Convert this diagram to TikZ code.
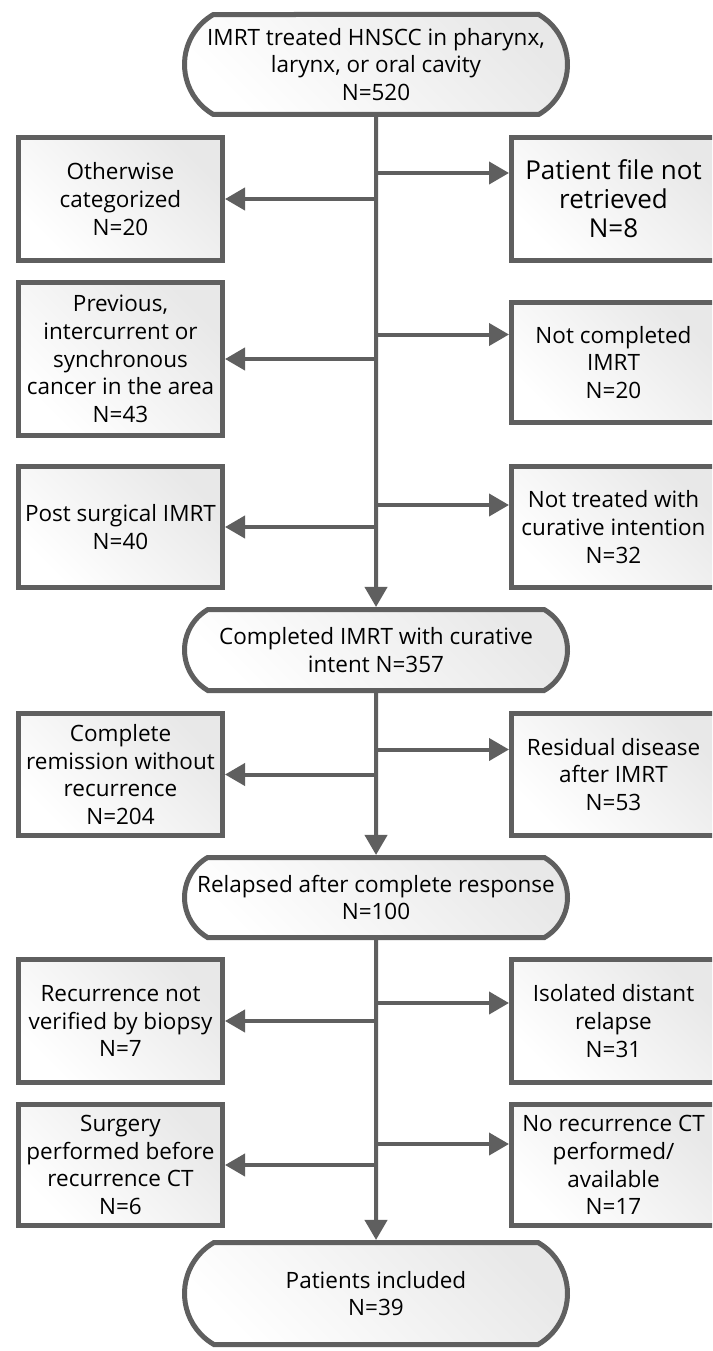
\documentclass[tikz,border=0pt]{standalone}
\usepackage{fontspec}
\setmainfont{Open Sans}
\usetikzlibrary{arrows.meta,shapes.misc}
\definecolor{linegray}{RGB}{95,95,95}
\begin{document}
\begin{tikzpicture}[x=1pt,y=-1pt,
    box/.style={draw=linegray,line width=5pt,top color=black!9,bottom color=white,shading angle=-45,
      minimum width=204pt,inner sep=0pt,align=center,font=\fontsize{22.5}{27.7}\selectfont},
    term/.style={box,rounded rectangle,rounded rectangle arc length=120,minimum width=383pt},
    flow/.style={draw=linegray,line width=4pt,-{Triangle[length=20pt,width=22pt]}}]
  \useasboundingbox (0,0) rectangle (712,1351);
  \clip (0,0) rectangle (712,1351);
  % main column
  \node[term,minimum height=100pt] (start) at (376,64.5) {IMRT treated HNSCC in pharynx,\\larynx, or oral cavity\\N=520};
  \node[term,minimum height=81pt] (compl) at (376,650) {Completed IMRT with curative\\intent N=357};
  \node[term,minimum height=80pt] (relapse) at (376,897.5) {Relapsed after complete response\\N=100};
  \node[term,minimum height=102pt] (incl) at (376,1293.5) {Patients included\\N=39};
  % excluded, left
  \node[box,minimum height=123pt] (other) at (120.5,199) {Otherwise\\categorized\\N=20};
  \node[box,minimum height=153pt] (prev) at (120.5,359) {Previous,\\intercurrent or\\synchronous\\cancer in the area\\N=43};
  \node[box,minimum height=121pt] (post) at (120.5,527) {Post surgical IMRT\\N=40};
  \node[box,minimum height=122pt] (remis) at (120.5,774.5) {Complete\\remission without\\recurrence\\N=204};
  \node[box,minimum height=123pt] (biopsy) at (120.5,1021) {Recurrence not\\verified by biopsy\\N=7};
  \node[box,minimum height=121pt] (surg) at (120.5,1165) {Surgery\\performed before\\recurrence CT\\N=6};
  % excluded, right
  \node[box,minimum height=123pt,font=\fontsize{26}{29}\selectfont] (nofile) at (613.5,199) {Patient file not\\retrieved\\N=8};
  \node[box,minimum height=120pt] (notcompl) at (613.5,362.5) {Not completed\\IMRT\\N=20};
  \node[box,minimum height=121pt] (notcur) at (613.5,527) {Not treated with\\curative intention\\N=32};
  \node[box,minimum height=122pt] (resid) at (613.5,774.5) {Residual disease\\after IMRT\\N=53};
  \node[box,minimum height=123pt] (distant) at (613.5,1021) {Isolated distant\\relapse\\N=31};
  \node[box,minimum height=121pt] (noct) at (613.5,1165) {No recurrence CT\\performed/\\available\\N=17};
  % arrows
  \draw[flow] (start) -- (compl);
  \draw[flow] (compl) -- (relapse);
  \draw[flow] (relapse) -- (incl);
  \foreach \b in {other,prev,post,remis,biopsy,surg}
    \draw[flow] (\b.east -| start.south) -- (\b.east);
  \foreach \b/\d in {nofile/26,notcompl/28,notcur/22,resid/25,distant/18,noct/21} {
    \coordinate (\b-in) at ([yshift=\d pt]\b.west);
    \draw[flow] (start.south |- \b-in) -- (\b-in);
  }
\end{tikzpicture}
\end{document}
